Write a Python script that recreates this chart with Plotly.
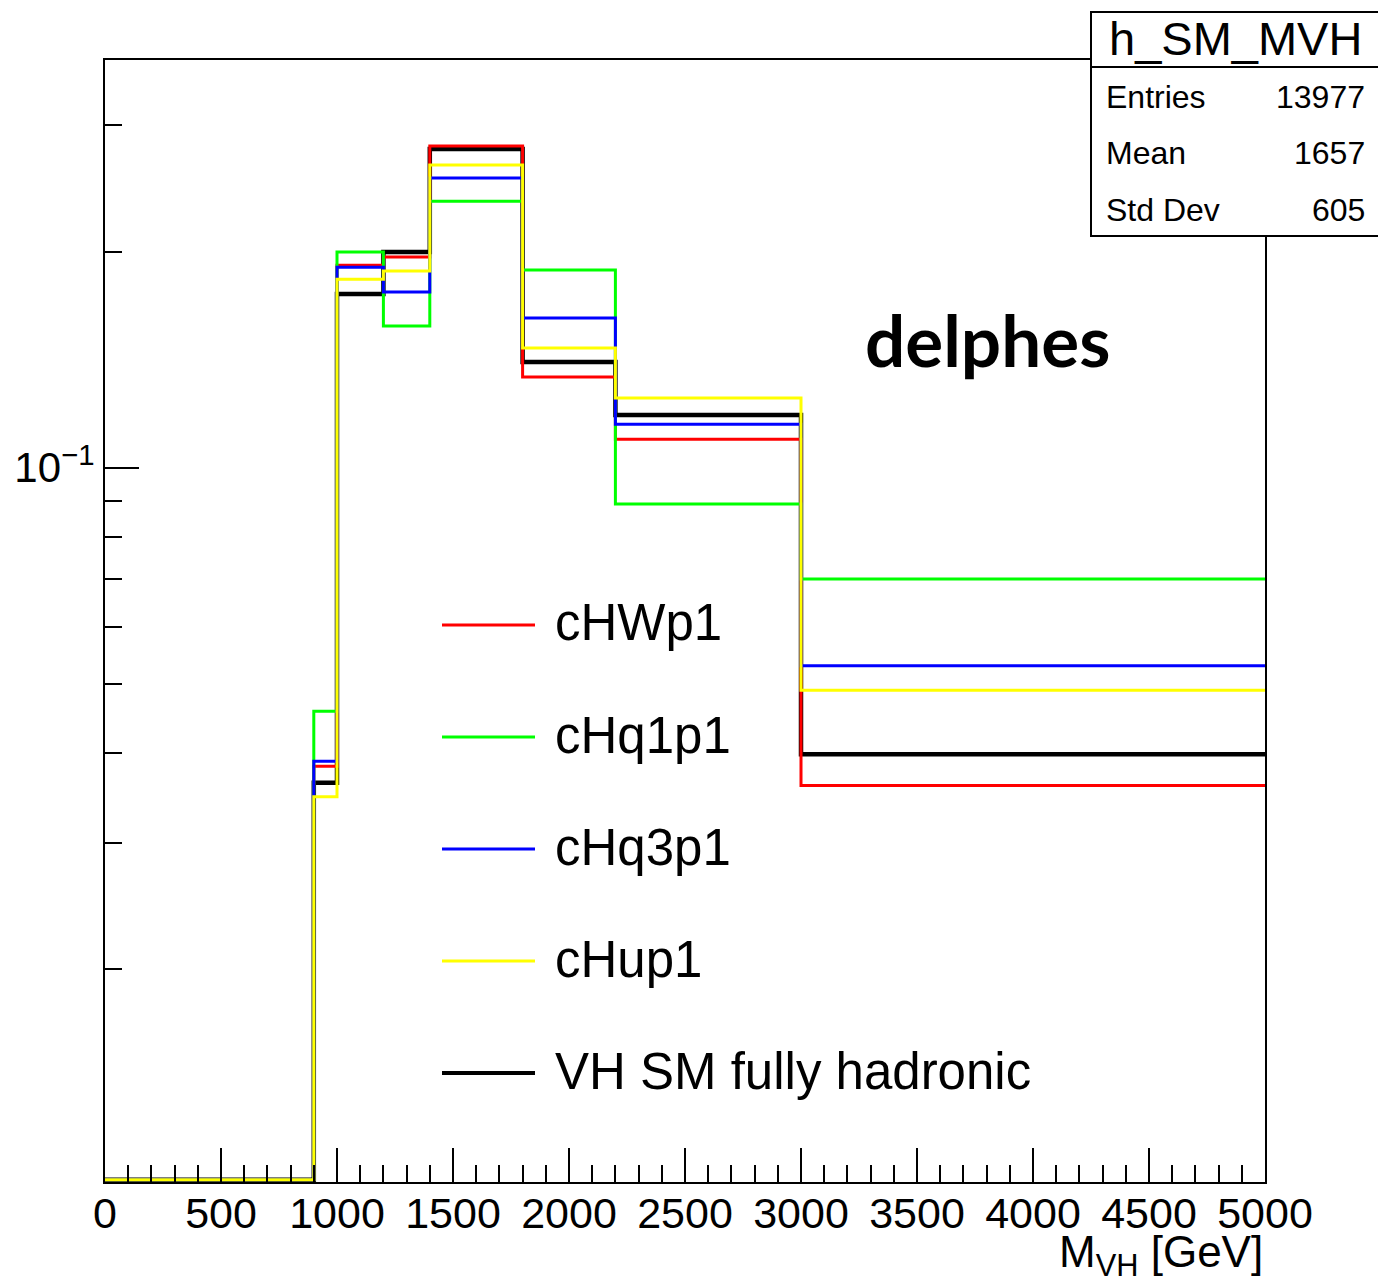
import numpy as np
import plotly.graph_objects as go

# Histogram binning in M_VH [GeV]
bin_edges = [0, 900, 1000, 1200, 1400, 1800, 2200, 3000, 5000]

# Normalised bin contents per sample
cHWp1 = [0.0, 0.0384, 0.1915, 0.1966, 0.2806, 0.1338, 0.1096, 0.0361]
cHq1p1 = [0.0, 0.0458, 0.1997, 0.1575, 0.2351, 0.1885, 0.0890, 0.0700]
cHq3p1 = [0.0, 0.0390, 0.1903, 0.1757, 0.2532, 0.1616, 0.1150, 0.0530]
cHup1 = [0.0, 0.0348, 0.1831, 0.1879, 0.2641, 0.1468, 0.1251, 0.0490]
vh_sm = [0.0, 0.0364, 0.1746, 0.1997, 0.2779, 0.1404, 0.1184, 0.0399]

series_names = ["cHWp1", "cHq1p1", "cHq3p1", "cHup1", "VH SM fully hadronic"]
series_colors = ["#ff0000", "#00ff00", "#0000ff", "#ffff00", "#000000"]
series_widths = [3, 3, 3, 3, 4.5]
series_values = [cHWp1, cHq1p1, cHq3p1, cHup1, vh_sm]

# Stats box content
stats_title = "h_SM_MVH"
stats_labels = ["Entries", "Mean", "Std Dev"]
stats_values = ["13977", "1657", "605"]

x_tick_vals = list(range(0, 5001, 500))
y_major_vals = [0.1]
y_major_text = ["10<sup>\u22121</sup>"]
y_minor_vals = [0.02, 0.03, 0.04, 0.05, 0.06, 0.07, 0.08, 0.09, 0.2, 0.3]

# Log axis window; empty bins sit on the floor of the frame
y_log_range = [-1.995, -0.432]
y_floor = 10 ** (y_log_range[0] + 0.003)

FONT = "Liberation Sans, Arial, Helvetica, sans-serif"

W, H = 1378, 1284
L, R, T, B = 105, 113, 60, 102
PW, PH = W - L - R, H - T - B


def px_x(p):
    return (p - L) / PW


def px_y(p):
    return (H - B - p) / PH


def step_xy(edges, values):
    xs, ys = [], []
    for i, v in enumerate(values):
        v = max(v, y_floor)
        xs += [edges[i], edges[i + 1]]
        ys += [v, v]
    return xs, ys


fig = go.Figure()

# Draw order: SM reference first, then the EFT variations on top
draw_order = [4, 0, 1, 2, 3]
for i in draw_order:
    xs, ys = step_xy(bin_edges, series_values[i])
    fig.add_trace(go.Scatter(
        x=xs, y=ys, mode="lines", name=series_names[i],
        line=dict(color=series_colors[i], width=series_widths[i]),
        showlegend=False, hoverinfo="skip",
    ))

shapes = []
annotations = []

# Hand-drawn legend with long line samples
leg_rows = [625, 737, 849, 961, 1073]
for i, yy in enumerate(leg_rows):
    shapes.append(dict(type="line", xref="paper", yref="paper",
                       x0=px_x(442), x1=px_x(535), y0=px_y(yy), y1=px_y(yy),
                       line=dict(color=series_colors[i], width=series_widths[i] if i < 4 else 4)))
    annotations.append(dict(xref="paper", yref="paper", x=px_x(553), y=px_y(yy - 2),
                            xanchor="left", yanchor="middle", showarrow=False,
                            text=series_names[i],
                            font=dict(family=FONT, size=51, color="black")))

# "delphes" label
annotations.append(dict(xref="paper", yref="paper", x=px_x(987), y=px_y(340),
                        xanchor="center", yanchor="middle", showarrow=False,
                        text="<b>delphes</b>",
                        font=dict(family="Lato, Open Sans, sans-serif", size=71, color="black")))

# Stats box
bx0, bx1, by0, by1, bsep = 1091, 1382, 12, 236, 67
shapes.append(dict(type="rect", xref="paper", yref="paper", layer="above",
                   x0=px_x(bx0), x1=px_x(bx1), y0=px_y(by1), y1=px_y(by0),
                   fillcolor="white", line=dict(color="black", width=2)))
shapes.append(dict(type="line", xref="paper", yref="paper", layer="above",
                   x0=px_x(bx0), x1=px_x(bx1), y0=px_y(bsep), y1=px_y(bsep),
                   line=dict(color="black", width=2)))
annotations.append(dict(xref="paper", yref="paper", x=px_x(1235), y=px_y(39),
                        xanchor="center", yanchor="middle", showarrow=False,
                        text=stats_title, font=dict(family=FONT, size=47, color="black")))
for k, yy in enumerate([97, 153, 210]):
    annotations.append(dict(xref="paper", yref="paper", x=px_x(1104), y=px_y(yy),
                            xanchor="left", yanchor="middle", showarrow=False,
                            text=stats_labels[k], font=dict(family=FONT, size=32, color="black")))
    annotations.append(dict(xref="paper", yref="paper", x=px_x(1367), y=px_y(yy),
                            xanchor="right", yanchor="middle", showarrow=False,
                            text=stats_values[k], font=dict(family=FONT, size=32, color="black")))

# X axis title, right aligned at the axis end
annotations.append(dict(xref="paper", yref="paper", x=1.0, y=px_y(1255),
                        xanchor="right", yanchor="middle", showarrow=False,
                        text="M<sub>VH</sub> [GeV]",
                        font=dict(family=FONT, size=44, color="black")))

fig.update_layout(
    width=W, height=H,
    margin=dict(l=L, r=R, t=T, b=B, pad=0),
    paper_bgcolor="white", plot_bgcolor="white",
    showlegend=False,
    font=dict(family=FONT, color="black"),
    shapes=shapes, annotations=annotations,
    xaxis=dict(
        range=[0, 5000], showgrid=False, zeroline=False,
        showline=True, linecolor="black", linewidth=2, mirror=True,
        ticks="inside", ticklen=34, tickwidth=2, tickcolor="black",
        tickmode="array", tickvals=x_tick_vals, ticktext=[str(v) for v in x_tick_vals],
        tickfont=dict(family=FONT, size=43, color="black"),
        ticklabelstandoff=-8,
        minor=dict(ticks="inside", ticklen=17, tickwidth=2, tickcolor="black",
                   dtick=100, tick0=0, showgrid=False),
    ),
    yaxis=dict(
        type="log", range=y_log_range, showgrid=False, zeroline=False,
        showline=True, linecolor="black", linewidth=2, mirror=True,
        ticks="inside", ticklen=34, tickwidth=2, tickcolor="black",
        tickmode="array", tickvals=y_major_vals, ticktext=y_major_text,
        tickfont=dict(family=FONT, size=42, color="black"),
        minor=dict(ticks="inside", ticklen=17, tickwidth=2, tickcolor="black",
                   tickmode="array", tickvals=y_minor_vals, showgrid=False),
    ),
)

fig.write_html("out.html")
